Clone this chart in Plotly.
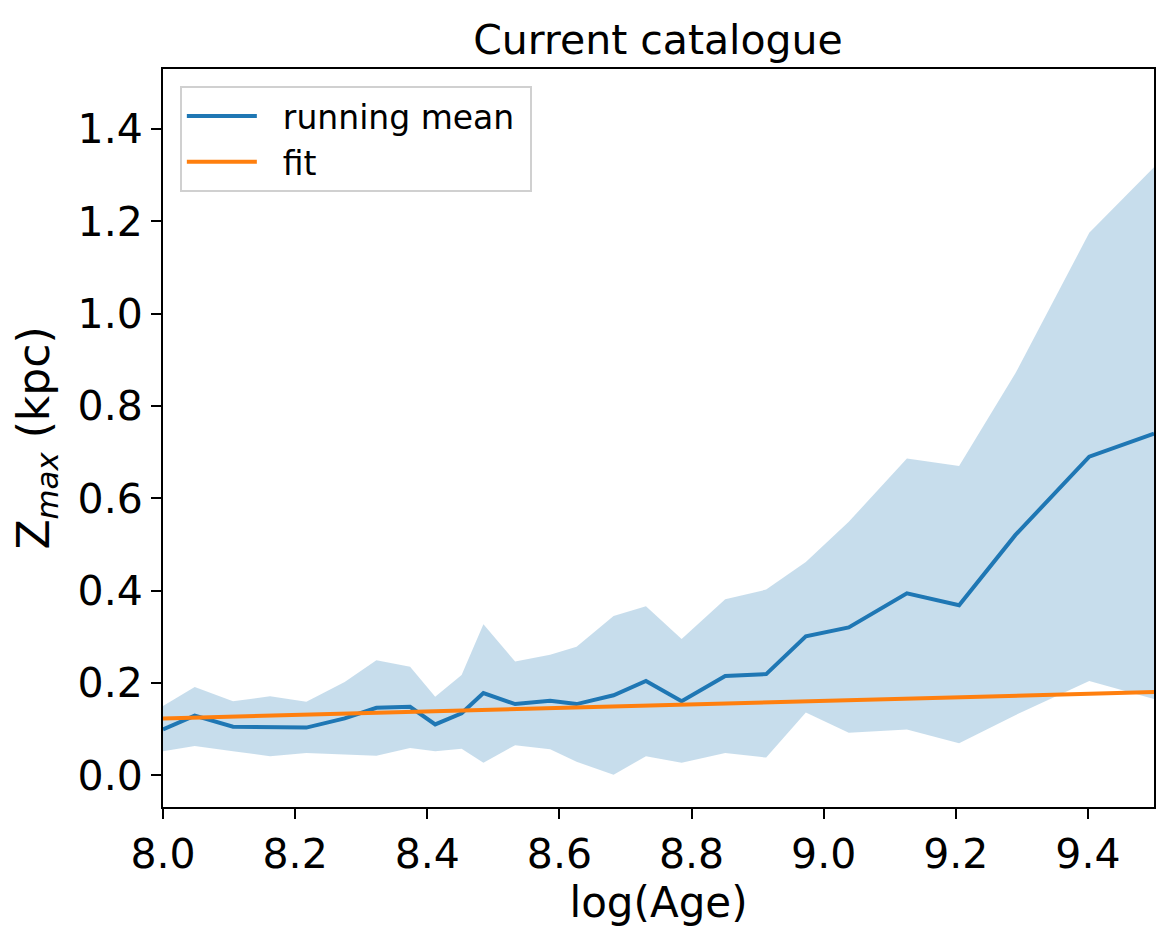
import plotly.graph_objects as go

# Data
log_age = [8.0, 8.048, 8.106, 8.162, 8.217, 8.275, 8.323, 8.374, 8.412, 8.452,
           8.485, 8.533, 8.586, 8.626, 8.682, 8.731, 8.785, 8.851, 8.913, 8.973,
           9.038, 9.126, 9.205, 9.29, 9.402, 9.5]
zmax_mean = [0.099, 0.129, 0.105, 0.105, 0.103, 0.123, 0.146, 0.148, 0.110, 0.134,
             0.178, 0.154, 0.161, 0.154, 0.173, 0.204, 0.160, 0.215, 0.219, 0.301,
             0.320, 0.394, 0.368, 0.520, 0.690, 0.740]
zmax_upper = [0.150, 0.191, 0.160, 0.171, 0.159, 0.202, 0.249, 0.235, 0.170, 0.217,
              0.327, 0.246, 0.261, 0.278, 0.345, 0.366, 0.295, 0.381, 0.402, 0.462,
              0.549, 0.686, 0.670, 0.870, 1.175, 1.317]
zmax_lower = [0.052, 0.063, 0.052, 0.041, 0.048, 0.045, 0.042, 0.059, 0.052, 0.057,
              0.027, 0.065, 0.056, 0.029, 0.001, 0.041, 0.027, 0.048, 0.038, 0.136,
              0.092, 0.099, 0.069, 0.130, 0.204, 0.165]
fit_x = [8.0, 9.5]
fit_y = [0.123, 0.180]

x_ticks = [8.0, 8.2, 8.4, 8.6, 8.8, 9.0, 9.2, 9.4]
y_ticks = [0.0, 0.2, 0.4, 0.6, 0.8, 1.0, 1.2, 1.4]

BLUE = "#1f77b4"
ORANGE = "#ff7f0e"
FONT = "DejaVu Sans"

fig = go.Figure()
fig.add_trace(go.Scatter(x=log_age, y=zmax_lower, mode="lines",
                         line=dict(width=0), showlegend=False, hoverinfo="skip"))
fig.add_trace(go.Scatter(x=log_age, y=zmax_upper, mode="lines",
                         line=dict(width=0), fill="tonexty",
                         fillcolor="rgba(31,119,180,0.25)",
                         showlegend=False, hoverinfo="skip"))
fig.add_trace(go.Scatter(x=log_age, y=zmax_mean, mode="lines",
                         line=dict(color=BLUE, width=4),
                         name="\u00a0\u00a0running mean\u00a0"))
fig.add_trace(go.Scatter(x=fit_x, y=fit_y, mode="lines",
                         line=dict(color=ORANGE, width=4),
                         name="\u00a0\u00a0fit"))

axis_common = dict(
    showline=True, linecolor="black", linewidth=2, mirror=True,
    ticks="outside", ticklen=10, tickwidth=2, tickcolor="black",
    showgrid=False, zeroline=False, automargin=False,
    tickfont=dict(family=FONT, size=41, color="black"),
)

fig.update_layout(
    width=1174, height=943,
    margin=dict(l=163, r=20, t=69, b=136),
    paper_bgcolor="white", plot_bgcolor="white",
    font=dict(family=FONT, color="black"),
    title=dict(text="Current catalogue", x=0.5605, xanchor="center",
               y=0.958, yanchor="middle", yref="container", automargin=False,
               font=dict(family=FONT, size=41, color="black")),
    xaxis=dict(range=[8.0, 9.5], tickvals=x_ticks, tickformat=".1f",
               title=dict(text="log(Age)", standoff=4,
                          font=dict(family=FONT, size=42, color="black")),
               **axis_common),
    yaxis=dict(range=[-0.069, 1.53], tickvals=y_ticks, tickformat=".1f",
               title=dict(text="Z<sub><i>max</i></sub> (kpc)", standoff=14,
                          font=dict(family=FONT, size=44, color="black")),
               **axis_common),
    legend=dict(x=0.017, y=0.977, xanchor="left", yanchor="top",
                traceorder="normal",
                bgcolor="rgba(255,255,255,0.8)", bordercolor="#d0d0d0",
                borderwidth=2, itemwidth=70,
                font=dict(family=FONT, size=33, color="black")),
)

fig.write_html("out.html",
               config={"displayModeBar": False},
               post_script="document.body.style.margin='0';"
                           "document.body.style.padding='0';")
